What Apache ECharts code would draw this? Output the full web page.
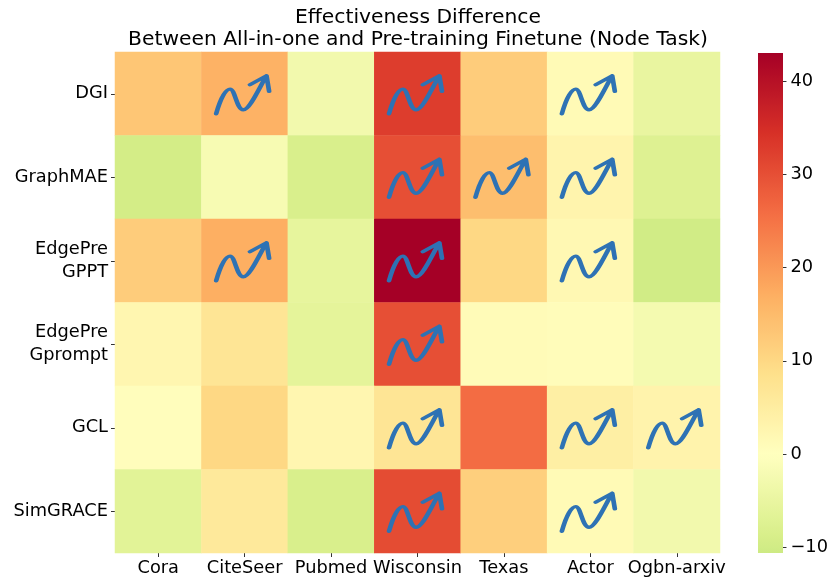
<!DOCTYPE html>
<html><head><meta charset="utf-8">
<style>html,body{margin:0;padding:0;background:#fff}#c{width:831px;height:588px}</style>
<script src="https://cdn.jsdelivr.net/npm/echarts@6/dist/echarts.min.js"></script>
</head><body><div id="c"></div>
<script>
const titleLines = ["Effectiveness Difference", "Between All-in-one and Pre-training Finetune (Node Task)"];
const datasets = ["Cora","CiteSeer","Pubmed","Wisconsin","Texas","Actor","Ogbn-arxiv"];
const methods = ["DGI","GraphMAE","EdgePre\nGPPT","EdgePre\nGprompt","GCL","SimGRACE"];
const diffDGI      = [13, 16.5, -3, 32.5, 12, 1.5, -5];
const diffGraphMAE = [-9.5, -2, -8.5, 30, 14.5, 3, -7.5];
const diffGPPT     = [12, 17, -5.5, 43, 10, 2, -10];
const diffGprompt  = [2.5, 7, -6, 30, 1.2, 0.8, -2.5];
const diffGCL      = [0.5, 10, 2.5, 7, 26, 4.5, 3.2];
const diffSimGRACE = [-6.5, 6, -8.5, 30.5, 11.5, 1.5, -3];
const improvedDGI      = [0,1,0,1,0,1,0];
const improvedGraphMAE = [0,0,0,1,1,1,0];
const improvedGPPT     = [0,1,0,1,0,1,0];
const improvedGprompt  = [0,0,0,1,0,0,0];
const improvedGCL      = [0,0,0,1,0,1,1];
const improvedSimGRACE = [0,0,0,1,0,1,0];
const colorbarTicks = [-10,0,10,20,30,40];
const vMin = -10.6, vMax = 43;

const matrix = [diffDGI,diffGraphMAE,diffGPPT,diffGprompt,diffGCL,diffSimGRACE];
const flags = [improvedDGI,improvedGraphMAE,improvedGPPT,improvedGprompt,improvedGCL,improvedSimGRACE];
const cells = [], arrows = [];
matrix.forEach((row,r)=>row.forEach((v,c)=>{
  cells.push([c,r,v]);
  if (flags[r][c]) arrows.push([c,r]);
}));

const anchors = ["#006837","#1a9850","#66bd63","#a6d96a","#d9ef8b","#ffffbf","#fee08b","#fdae61","#f46d43","#d73027","#a50026"];
function cmap(t){
  const x = Math.min(0.9999,Math.max(0,t))*10, i = Math.floor(x), f = x-i;
  const p = s=>[1,3,5].map(k=>parseInt(s.substr(k,2),16));
  const a = p(anchors[i]), b = p(anchors[i+1]);
  return "rgb("+a.map((q,k)=>Math.round(q+(b[k]-q)*f)).join(",")+")";
}
const stops = [], gradientStops = [];
for (let i=0;i<=80;i++){
  const v = vMin+(vMax-vMin)*i/80, col = cmap(0.5+v/(2*43));
  stops.push(col);
  gradientStops.push({offset:1-i/80,color:col});
}
gradientStops.reverse();

const arrowPath = "path://M48 192C60 150 75 118 90 118C105 118 110 180 130 180C150 180 180 110 200 78M150 105L200 78L208 125";

const chart = echarts.init(document.getElementById("c"),null,{renderer:"canvas"});
const font = "DejaVu Sans";
chart.setOption({
  animation:false,
  backgroundColor:"#fff",
  textStyle:{fontFamily:font},
  title:{
    text:titleLines.join("\n"),left:413,top:2,textAlign:"center",
    textStyle:{fontFamily:font,fontSize:20.3,fontWeight:"normal",color:"#000",lineHeight:22}
  },
  grid:[
    {left:115,top:52,width:605,height:501,containLabel:false},
    {left:758,top:53,width:25,height:500}
  ],
  graphic:[{
    type:"rect",left:758,top:53,silent:true,z:1,
    shape:{width:25,height:500},
    style:{fill:new echarts.graphic.LinearGradient(0,0,0,1,gradientStops)}
  }],
  xAxis:[
    {type:"category",gridIndex:0,data:datasets,position:"bottom",
     axisLine:{show:false},splitLine:{show:false},
     axisTick:{show:true,alignWithLabel:true,length:4,lineStyle:{color:"#333",width:1}},
     axisLabel:{color:"#000",fontSize:17.8,fontFamily:font,margin:6,interval:0,hideOverlap:false}},
    {type:"category",gridIndex:1,data:[""],show:false}
  ],
  yAxis:[
    {type:"category",gridIndex:0,data:methods,inverse:true,
     axisLine:{show:false},splitLine:{show:false},
     axisTick:{show:true,alignWithLabel:true,length:4,lineStyle:{color:"#333",width:1}},
     axisLabel:{color:"#000",fontSize:17.8,fontFamily:font,margin:7,interval:0,align:"right",lineHeight:23}},
    {type:"value",gridIndex:1,min:vMin,max:vMax,position:"right",
     axisLine:{show:false},splitLine:{show:false},
     axisTick:{show:true,length:4,customValues:colorbarTicks,lineStyle:{color:"#333",width:1}},
     axisLabel:{color:"#000",fontSize:17.8,fontFamily:font,margin:8,customValues:colorbarTicks,
       formatter:v=>String(v).replace("-","\u2212")}}
  ],
  visualMap:{
    type:"continuous",min:vMin,max:vMax,seriesIndex:0,show:false,
    inRange:{color:stops}
  },
  series:[
    {type:"heatmap",xAxisIndex:0,yAxisIndex:0,data:cells,itemStyle:{borderWidth:0},progressive:0,emphasis:{disabled:true}},
    {type:"scatter",xAxisIndex:0,yAxisIndex:0,data:arrows,symbol:arrowPath,symbolSize:[53,38],symbolOffset:[-2,1],
     itemStyle:{color:"rgba(0,0,0,0)",borderColor:"#2e72b4",borderWidth:4,borderCap:"round",borderJoin:"round",opacity:1},
     z:5,silent:true}
  ]
});
</script></body></html>
